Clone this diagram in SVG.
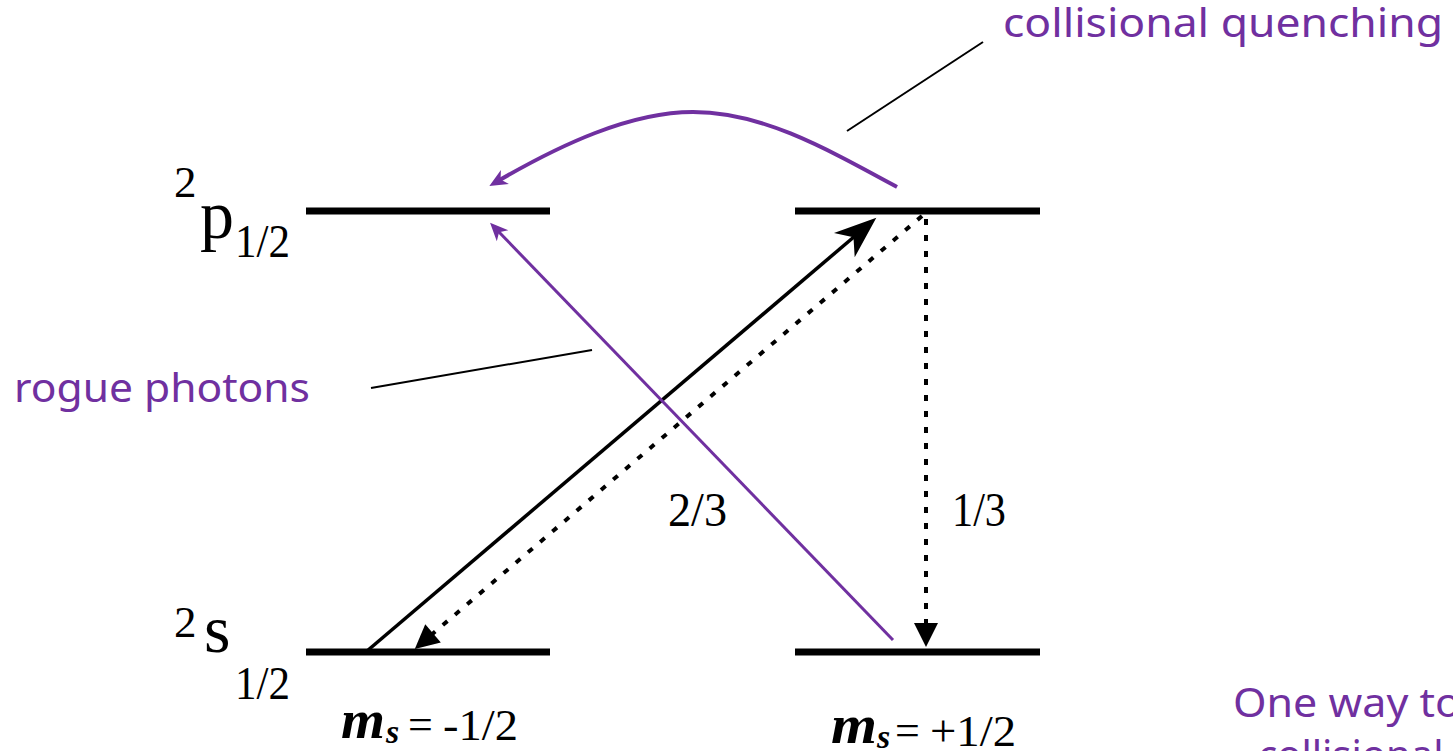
<svg xmlns="http://www.w3.org/2000/svg" width="1453" height="751" viewBox="0 0 1453 751">
<style>
.lvl{stroke:#000;stroke-width:7;fill:none}
.serif{font-family:"Liberation Serif","Times New Roman",serif;fill:#000}
.purp{font-family:"Noto Sans","Open Sans",sans-serif;fill:#7030A0;font-size:40px}
.dot{stroke:#000;stroke-width:4;fill:none;stroke-dasharray:6 10}
.ptr{stroke:#000;stroke-width:2;fill:none}
.mi{font-style:italic;font-weight:bold}
</style>
<defs>
<marker id="ahBig" markerUnits="userSpaceOnUse" viewBox="-45 -20 50 40" refX="-28" refY="0" markerWidth="50" markerHeight="40" orient="auto">
<path d="M0,0 L-42,-16 L-30,0 L-42,16 Z" fill="#000"/>
</marker>
<marker id="ahDot" markerUnits="userSpaceOnUse" viewBox="-30 -15 35 30" refX="-20" refY="0" markerWidth="35" markerHeight="30" orient="auto">
<path d="M0,0 L-24,-12 L-24,12 Z" fill="#000"/>
</marker>
<marker id="ahPurp" markerUnits="userSpaceOnUse" viewBox="-25 -12 30 24" refX="-10" refY="0" markerWidth="30" markerHeight="24" orient="auto">
<path d="M0,0 L-18,-8 L-13,0 L-18,8 Z" fill="#7030A0"/>
</marker>
</defs>

<g id="level-p-left"><line class="lvl" x1="306" y1="211" x2="550" y2="211"/></g>
<g id="level-p-right"><line class="lvl" x1="795" y1="211" x2="1040" y2="211"/></g>
<g id="level-s-left"><line class="lvl" x1="306" y1="652" x2="550" y2="652"/></g>
<g id="level-s-right"><line class="lvl" x1="795" y1="652" x2="1040" y2="652"/></g>

<g id="label-p">
<text class="serif" x="174" y="197" font-size="45">2</text>
<text class="serif" x="200" y="238" font-size="68">p</text>
<text class="serif" x="235" y="257" font-size="47" textLength="55" lengthAdjust="spacingAndGlyphs">1/2</text>
</g>
<g id="label-s">
<text class="serif" x="174" y="637" font-size="45">2</text>
<text class="serif" x="204" y="652" font-size="68">s</text>
<text class="serif" x="235" y="699" font-size="47" textLength="55" lengthAdjust="spacingAndGlyphs">1/2</text>
</g>

<g id="label-ms-left" class="serif">
<text class="mi" x="341" y="738" font-size="54" textLength="44" lengthAdjust="spacingAndGlyphs">m</text>
<text class="mi" x="386" y="743" font-size="34">s</text>
<text x="408" y="739" font-size="44">=</text>
<text x="443" y="740" font-size="44" textLength="75" lengthAdjust="spacingAndGlyphs">-1/2</text>
</g>
<g id="label-ms-right" class="serif">
<text class="mi" x="831" y="743" font-size="54" textLength="46" lengthAdjust="spacingAndGlyphs">m</text>
<text class="mi" x="877" y="748" font-size="34">s</text>
<text x="895" y="745" font-size="44">=</text>
<text x="930" y="746" font-size="44" textLength="86" lengthAdjust="spacingAndGlyphs">+1/2</text>
</g>

<g id="label-23"><text class="serif" x="668" y="526" font-size="48" textLength="59" lengthAdjust="spacingAndGlyphs">2/3</text></g>
<g id="label-13"><text class="serif" x="952" y="526" font-size="48" textLength="54" lengthAdjust="spacingAndGlyphs">1/3</text></g>

<g id="connectors">
<line x1="367" y1="651" x2="855" y2="236" stroke="#000" stroke-width="3.5" marker-end="url(#ahBig)"/>
<line class="dot" x1="922" y1="216" x2="430" y2="636" marker-end="url(#ahDot)"/>
<line class="dot" x1="926" y1="219" x2="926" y2="627" marker-end="url(#ahDot)"/>
<line x1="893" y1="640" x2="497" y2="230" stroke="#7030A0" stroke-width="3" marker-end="url(#ahPurp)"/>
<path d="M897,187 C820,145 760,112 693,112 C630,112 560,145 498,181" stroke="#7030A0" stroke-width="4" fill="none" marker-end="url(#ahPurp)"/>
<line class="ptr" x1="847" y1="131" x2="983" y2="42"/>
<line class="ptr" x1="371" y1="388" x2="592" y2="350"/>
</g>

<g id="label-quench"><text class="purp" x="1003" y="37" textLength="440" lengthAdjust="spacingAndGlyphs">collisional quenching</text></g>
<g id="label-rogue"><text class="purp" x="14" y="402" textLength="296" lengthAdjust="spacingAndGlyphs">rogue photons</text></g>
<g id="label-oneway">
<text class="purp" x="1233" y="717" textLength="228" lengthAdjust="spacingAndGlyphs">One way to</text>
<text class="purp" x="1258" y="769">collisional</text>
</g>
</svg>
